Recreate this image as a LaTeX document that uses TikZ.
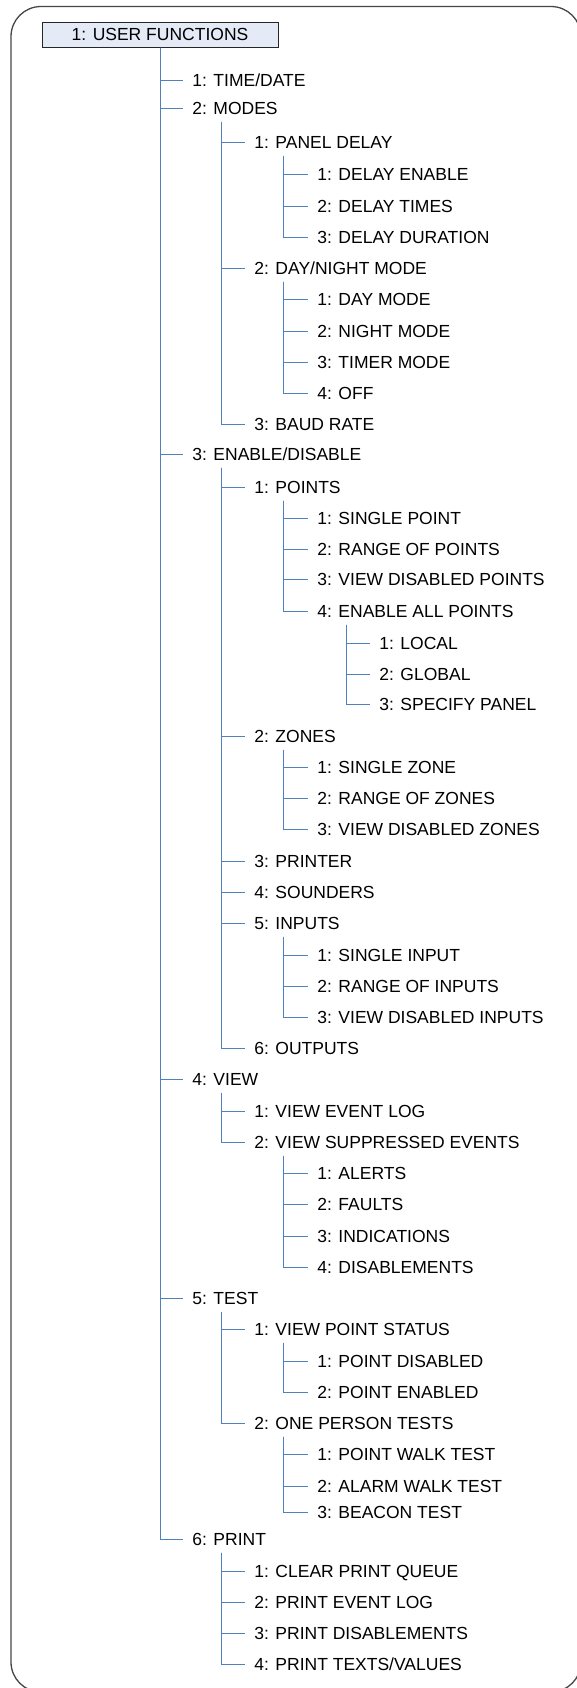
\documentclass[tikz,border=0pt]{standalone}
\usepackage{fontspec}
\setmainfont{Liberation Sans}
\usepackage{xcolor}
\usepackage{tikz}
\usetikzlibrary{calc,positioning}
\definecolor{linkblue}{RGB}{79,129,189}
\definecolor{boxfill}{RGB}{228,234,246}
\definecolor{framegray}{RGB}{70,70,70}
% x positions of the four menu levels (west side of the labels)
\newcommand{\lvla}{183}
\newcommand{\lvlb}{245}
\newcommand{\lvlc}{308}
\newcommand{\lvld}{370}
\begin{document}
\begin{tikzpicture}[x=0.5pt, y=-0.5pt,
	entry/.style={anchor=west, inner xsep=4.5pt, inner ysep=3.5pt, text height=6.3pt, text depth=0pt, font=\fontsize{8.75}{10}\selectfont},
	link/.style={draw=linkblue, line width=0.5pt},
	sub/.style={to path={([xshift=19pt]\tikztostart.south west) |- (\tikztotarget.west)}}]

	\useasboundingbox (0,0) rectangle (577,1688);

	% outer frame
	\draw[framegray, line width=0.65pt, rounded corners=15pt] (11,6.5) rectangle (581,1692);

	% title
	\node[draw=black!85, fill=boxfill, line width=0.5pt, minimum width=118pt, minimum height=12.5pt, inner sep=0pt, font=\fontsize{8.75}{10}\selectfont] (root) at (160,34.5) {1: USER FUNCTIONS};

	% level one
	\node[entry] (td) at (\lvla,80) {1: TIME/DATE};
	\node[entry] (modes) at (\lvla,108) {2: MODES};
	\node[entry] (endis) at (\lvla,454) {3: ENABLE/DISABLE};
	\node[entry] (view) at (\lvla,1079) {4: VIEW};
	\node[entry] (test) at (\lvla,1298) {5: TEST};
	\node[entry] (print) at (\lvla,1539) {6: PRINT};

	% modes
	\node[entry] (pdelay) at (\lvlb,142) {1: PANEL DELAY};
	\node[entry] (denable) at (\lvlc,174) {1: DELAY ENABLE};
	\node[entry] (dtimes) at (\lvlc,206) {2: DELAY TIMES};
	\node[entry] (dduration) at (\lvlc,237) {3: DELAY DURATION};
	\node[entry] (daynight) at (\lvlb,268) {2: DAY/NIGHT MODE};
	\node[entry] (daymode) at (\lvlc,299) {1: DAY MODE};
	\node[entry] (nightmode) at (\lvlc,331) {2: NIGHT MODE};
	\node[entry] (timermode) at (\lvlc,362) {3: TIMER MODE};
	\node[entry] (off) at (\lvlc,393) {4: OFF};
	\node[entry] (baud) at (\lvlb,424) {3: BAUD RATE};

	% enable/disable
	\node[entry] (points) at (\lvlb,487) {1: POINTS};
	\node[entry] (spoint) at (\lvlc,518) {1: SINGLE POINT};
	\node[entry] (rpoints) at (\lvlc,549) {2: RANGE OF POINTS};
	\node[entry] (vdpoints) at (\lvlc,579) {3: VIEW DISABLED POINTS};
	\node[entry] (enall) at (\lvlc,611) {4: ENABLE ALL POINTS};
	\node[entry] (local) at (\lvld,643) {1: LOCAL};
	\node[entry] (global) at (\lvld,674) {2: GLOBAL};
	\node[entry] (specify) at (\lvld,704) {3: SPECIFY PANEL};
	\node[entry] (zones) at (\lvlb,736) {2: ZONES};
	\node[entry] (szone) at (\lvlc,767) {1: SINGLE ZONE};
	\node[entry] (rzones) at (\lvlc,798) {2: RANGE OF ZONES};
	\node[entry] (vdzones) at (\lvlc,829) {3: VIEW DISABLED ZONES};
	\node[entry] (printer) at (\lvlb,861) {3: PRINTER};
	\node[entry] (sounders) at (\lvlb,892) {4: SOUNDERS};
	\node[entry] (inputs) at (\lvlb,923) {5: INPUTS};
	\node[entry] (sinput) at (\lvlc,955) {1: SINGLE INPUT};
	\node[entry] (rinputs) at (\lvlc,986) {2: RANGE OF INPUTS};
	\node[entry] (vdinputs) at (\lvlc,1017) {3: VIEW DISABLED INPUTS};
	\node[entry] (outputs) at (\lvlb,1048) {6: OUTPUTS};

	% view
	\node[entry] (vlog) at (\lvlb,1111) {1: VIEW EVENT LOG};
	\node[entry] (vsupp) at (\lvlb,1142) {2: VIEW SUPPRESSED EVENTS};
	\node[entry] (alerts) at (\lvlc,1173) {1: ALERTS};
	\node[entry] (faults) at (\lvlc,1204) {2: FAULTS};
	\node[entry] (indic) at (\lvlc,1236) {3: INDICATIONS};
	\node[entry] (disabl) at (\lvlc,1267) {4: DISABLEMENTS};

	% test
	\node[entry] (vps) at (\lvlb,1329) {1: VIEW POINT STATUS};
	\node[entry] (pdis) at (\lvlc,1361) {1: POINT DISABLED};
	\node[entry] (pen) at (\lvlc,1392) {2: POINT ENABLED};
	\node[entry] (optests) at (\lvlb,1423) {2: ONE PERSON TESTS};
	\node[entry] (pwalk) at (\lvlc,1454) {1: POINT WALK TEST};
	\node[entry] (awalk) at (\lvlc,1486) {2: ALARM WALK TEST};
	\node[entry] (beacon) at (\lvlc,1512) {3: BEACON TEST};

	% print
	\node[entry] (clearq) at (\lvlb,1571) {1: CLEAR PRINT QUEUE};
	\node[entry] (plog) at (\lvlb,1602) {2: PRINT EVENT LOG};
	\node[entry] (pdisabl) at (\lvlb,1633) {3: PRINT DISABLEMENTS};
	\node[entry] (ptexts) at (\lvlb,1664) {4: PRINT TEXTS/VALUES};

	% connectors
	\foreach \c in {td,modes,endis,view,test,print}
		\draw[link] (root.south) |- (\c.west);
	\foreach \c in {pdelay,daynight,baud}
		\draw[link] (modes) to[sub] (\c);
	\foreach \c in {denable,dtimes,dduration}
		\draw[link] (pdelay) to[sub] (\c);
	\foreach \c in {daymode,nightmode,timermode,off}
		\draw[link] (daynight) to[sub] (\c);
	\foreach \c in {points,zones,printer,sounders,inputs,outputs}
		\draw[link] (endis) to[sub] (\c);
	\foreach \c in {spoint,rpoints,vdpoints,enall}
		\draw[link] (points) to[sub] (\c);
	\foreach \c in {local,global,specify}
		\draw[link] (enall) to[sub] (\c);
	\foreach \c in {szone,rzones,vdzones}
		\draw[link] (zones) to[sub] (\c);
	\foreach \c in {sinput,rinputs,vdinputs}
		\draw[link] (inputs) to[sub] (\c);
	\foreach \c in {vlog,vsupp}
		\draw[link] (view) to[sub] (\c);
	\foreach \c in {alerts,faults,indic,disabl}
		\draw[link] (vsupp) to[sub] (\c);
	\foreach \c in {vps,optests}
		\draw[link] (test) to[sub] (\c);
	\foreach \c in {pdis,pen}
		\draw[link] (vps) to[sub] (\c);
	\foreach \c in {pwalk,awalk,beacon}
		\draw[link] (optests) to[sub] (\c);
	\foreach \c in {clearq,plog,pdisabl,ptexts}
		\draw[link] (print) to[sub] (\c);

\end{tikzpicture}
\end{document}
